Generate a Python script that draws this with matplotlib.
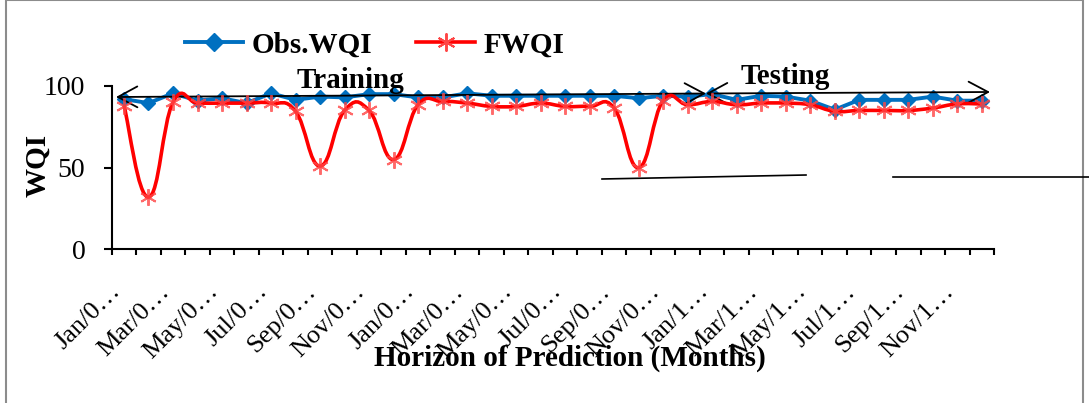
import numpy as np
import matplotlib
matplotlib.use("Agg")
import matplotlib.pyplot as plt
from matplotlib.path import Path
from matplotlib.patches import PathPatch, Rectangle
from matplotlib.lines import Line2D
from matplotlib.transforms import ScaledTranslation

# 36 months of WQI (observed vs forecast)
obs_wqi = [92, 89.5, 95.5, 91, 92.5, 89.5, 95.5, 91.5, 93.5, 93, 95, 95,
           93, 93, 95.5, 94, 94, 94, 94, 94, 94, 92.5, 94, 93.5,
           95, 91.5, 94, 93.5, 91, 85.5, 91.5, 91.5, 91.5, 93.5, 91, 91]
fwqi = [88, 32, 90, 89.5, 89.5, 89.5, 89.5, 84.5, 51, 85, 85, 55,
        88.5, 90.5, 89.5, 87.5, 87.5, 89.5, 87.5, 87.5, 86.5, 50, 91, 88.5,
        90.5, 88.5, 89.5, 89.5, 88.5, 84.5, 85, 85, 85, 86.5, 89, 89]
tick_labels = ["Jan/0…", "Mar/0…", "May/0…", "Jul/0…", "Sep/0…", "Nov/0…",
               "Jan/0…", "Mar/0…", "May/0…", "Jul/0…", "Sep/0…", "Nov/0…",
               "Jan/1…", "Mar/1…", "May/1…", "Jul/1…", "Sep/1…", "Nov/1…"]

plt.rcParams['font.family'] = ['Liberation Serif', 'DejaVu Serif']

BLUE = '#0070C0'
RED = '#FF0000'


def smooth_path(xs, ys, k=0.22):
    # excel style smoothed line: cubic bezier through every point
    pts = np.column_stack([xs, ys]).astype(float)
    n = len(pts)
    verts = [pts[0]]
    codes = [Path.MOVETO]
    for i in range(n - 1):
        p0 = pts[max(i - 1, 0)]
        p1 = pts[i]
        p2 = pts[i + 1]
        p3 = pts[min(i + 2, n - 1)]
        c1 = p1 + (p2 - p0) * k
        c2 = p2 - (p3 - p1) * k
        verts += [c1, c2, p2]
        codes += [Path.CURVE4] * 3
    return Path(verts, codes)


fig = plt.figure(figsize=(10.89, 4.03), dpi=100)
ax = fig.add_axes([0.1026, 0.381, 0.8102, 0.4057])

x = np.arange(len(obs_wqi))

ax.plot(x, obs_wqi, '-', color=BLUE, lw=2.8, marker='D', ms=7,
        mfc=BLUE, mec=BLUE, clip_on=False, zorder=3)
red_curve = PathPatch(smooth_path(x, fwqi), fill=False, ec=RED, lw=2.6,
                      transform=ax.transData, zorder=4)
ax.add_patch(red_curve)
ax.plot(x, fwqi, ls='none', marker=(6, 2, 0), ms=12, mec='#FF4545',
        mew=1.4, alpha=0.8, clip_on=False, zorder=5)

ax.set_xlim(-0.5, len(x) - 0.5)
ax.set_ylim(0, 100)
ax.set_yticks([0, 50, 100])
ax.tick_params(axis='y', direction='out', length=6, width=1.5,
               labelsize=20, pad=13)

ax.set_xticks(x[::2], tick_labels)
ax.set_xticks(np.arange(-0.5, len(x)), minor=True)
ax.tick_params(axis='x', which='major', length=0, labelsize=19, pad=31)
ax.tick_params(axis='x', which='minor', direction='out', length=4, width=1.5)
shift = ScaledTranslation(-3 / 100, 0, fig.dpi_scale_trans)
for lab in ax.get_xticklabels():
    lab.set_rotation(45)
    lab.set_ha('right')
    lab.set_va('baseline')
    lab.set_rotation_mode('anchor')
    lab.set_transform(lab.get_transform() + shift)

for s in ['top', 'right']:
    ax.spines[s].set_visible(False)
for s in ['left', 'bottom']:
    ax.spines[s].set_linewidth(1.5)

fig.text(38 / 1089, 1 - 165 / 403, 'WQI', rotation=90, ha='center',
         va='center', fontsize=21, fontweight='bold')
fig.text(570 / 1089, 1 - 358 / 403, 'Horizon of Prediction (Months)',
         ha='center', va='center', fontsize=21, fontweight='bold')

handles = [Line2D([], [], color=BLUE, lw=2.8, marker='D', ms=9),
           Line2D([], [], color=RED, lw=2.6, marker=(6, 2, 0), ms=13,
                  mec='#FF4545', mew=1.4)]
fig.legend(handles, ['Obs.WQI', 'FWQI'], loc='center left',
           bbox_to_anchor=(185 / 1089, 1 - 45 / 403), ncol=2, frameon=False,
           prop={'size': 21, 'weight': 'bold'}, handlelength=2.0,
           handletextpad=0.3, columnspacing=1.5, borderpad=0,
           borderaxespad=0)

# training / testing arrows
H = 403
arrow = dict(arrowstyle='<->,head_length=1.4,head_width=0.75', lw=1.3,
             color='black', shrinkA=0, shrinkB=0)
ax.annotate('', xy=(706, H - 93.5), xytext=(116, H - 97),
            xycoords='figure pixels', textcoords='figure pixels',
            arrowprops=arrow, annotation_clip=False)
ax.annotate('', xy=(990, H - 92), xytext=(706, H - 93.5),
            xycoords='figure pixels', textcoords='figure pixels',
            arrowprops=arrow, annotation_clip=False)
fig.text(350 / 1089, 1 - 80 / H, 'Training', ha='center', va='center',
         fontsize=21, fontweight='bold')
fig.text(785 / 1089, 1 - 76 / H, 'Testing', ha='center', va='center',
         fontsize=21, fontweight='bold')

# stray lines and frame from the source document
fig.add_artist(Line2D([602 / 1089, 806 / 1089], [1 - 179 / H, 1 - 175 / H],
                      color='black', lw=1.2, transform=fig.transFigure))
fig.add_artist(Line2D([893 / 1089, 1.0], [1 - 177 / H, 1 - 177 / H],
                      color='black', lw=1.2, transform=fig.transFigure))
fig.add_artist(Rectangle((6 / 1089, -10 / H), 1077 / 1089, 413 / H,
                         fill=False, ec='#8c8c8c', lw=1.5,
                         transform=fig.transFigure))

fig.savefig('out.png', dpi=100)
